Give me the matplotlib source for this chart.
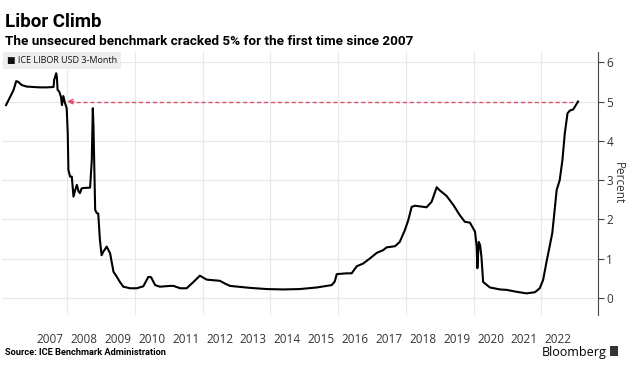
import matplotlib
matplotlib.use("Agg")
import matplotlib.pyplot as plt
import matplotlib.patches as mpatches

plt.rcParams['font.family'] = ['Open Sans', 'DejaVu Sans']
head_font = ['Roboto', 'DejaVu Sans']

# ICE LIBOR USD 3-month, decimal year vs percent
years = [2006.20, 2006.42, 2006.50, 2006.56, 2006.66, 2006.81, 2007.00, 2007.20, 2007.40, 2007.60,
         2007.62, 2007.68, 2007.70, 2007.72, 2007.77, 2007.82, 2007.85, 2007.89, 2007.94, 2007.99,
         2008.02, 2008.04, 2008.09, 2008.14, 2008.19, 2008.24, 2008.29, 2008.34, 2008.38, 2008.43,
         2008.48, 2008.68, 2008.73, 2008.76, 2008.78, 2008.83, 2008.88, 2008.92, 2008.97, 2009.02,
         2009.07, 2009.17, 2009.27, 2009.37, 2009.47, 2009.56, 2009.66, 2009.86, 2010.06, 2010.25,
         2010.40, 2010.48, 2010.60, 2010.74, 2011.04, 2011.14, 2011.34, 2011.53, 2011.73, 2011.92,
         2012.12, 2012.51, 2012.66, 2012.81, 2013.40, 2013.89, 2014.38, 2014.87, 2015.37, 2015.66,
         2015.81, 2015.90, 2015.96, 2016.25, 2016.40, 2016.50, 2016.55, 2016.74, 2016.94, 2017.14,
         2017.33, 2017.43, 2017.68, 2017.82, 2017.97, 2018.07, 2018.17, 2018.27, 2018.61, 2018.76,
         2018.91, 2019.00, 2019.20, 2019.40, 2019.59, 2019.74, 2019.89, 2020.04, 2020.09, 2020.11,
         2020.15, 2020.19, 2020.23, 2020.28, 2020.48, 2020.78, 2020.97, 2021.27, 2021.56, 2021.81,
         2021.95, 2022.05, 2022.15, 2022.23, 2022.32, 2022.36, 2022.45, 2022.54, 2022.62, 2022.69,
         2022.77, 2022.84, 2022.94, 2022.99, 2023.08]
libor = [4.91, 5.29, 5.52, 5.50, 5.42, 5.38, 5.37, 5.36, 5.36, 5.37,
         5.55, 5.72, 5.62, 5.30, 5.25, 5.12, 4.91, 5.14, 4.96, 4.83,
         4.20, 3.26, 3.09, 3.09, 2.58, 2.75, 2.88, 2.71, 2.67, 2.79,
         2.80, 2.81, 3.51, 4.83, 4.36, 2.24, 2.16, 2.15, 1.48, 1.09,
         1.18, 1.31, 1.14, 0.67, 0.54, 0.41, 0.29, 0.25, 0.25, 0.30,
         0.54, 0.53, 0.33, 0.29, 0.31, 0.31, 0.25, 0.25, 0.41, 0.57,
         0.47, 0.44, 0.37, 0.31, 0.26, 0.23, 0.22, 0.23, 0.27, 0.31,
         0.33, 0.42, 0.61, 0.63, 0.63, 0.75, 0.81, 0.88, 1.01, 1.15,
         1.22, 1.29, 1.32, 1.43, 1.73, 1.98, 2.32, 2.35, 2.31, 2.45,
         2.82, 2.74, 2.60, 2.37, 2.11, 1.94, 1.92, 1.69, 1.31, 0.76,
         1.43, 1.35, 1.05, 0.41, 0.27, 0.22, 0.21, 0.16, 0.12, 0.15,
         0.25, 0.46, 0.92, 1.26, 1.65, 1.98, 2.75, 3.00, 3.51, 4.19,
         4.70, 4.77, 4.80, 4.87, 5.00]

year_labels = [str(y) for y in range(2007, 2023)]
level_2007 = 5.0
arrow_back_to = 2008.0

fig = plt.figure(figsize=(6.26, 3.68), dpi=100)
ax = fig.add_axes([2 / 626, 1 - 315 / 368, 596 / 626, 263 / 368])

ax.set_xlim(2006.08, 2023.67)
ax.set_ylim(-0.43, 6.26)

# grid
for y in range(0, 7):
    ax.axhline(y, color='#e8e8e8', lw=0.8, zorder=0)
for x in range(2008, 2024, 2):
    ax.axvline(x, color='#e8e8e8', lw=0.8, zorder=0)

ax.plot(years, libor, color='black', lw=1.5, zorder=3)

# dashed line back to the 2007 level
ax.plot([arrow_back_to + 0.05, years[-1]], [level_2007, level_2007],
        color='#e0506e', lw=1, linestyle=(0, (3, 2)), zorder=2)
ax.annotate('', xy=(arrow_back_to, level_2007), xytext=(arrow_back_to + 0.2, level_2007),
            arrowprops=dict(arrowstyle='->', color='#e0506e', lw=1,
                            mutation_scale=8, shrinkA=0, shrinkB=0))

for s in ['top', 'left', 'bottom']:
    ax.spines[s].set_visible(False)
ax.spines['right'].set_color('#444444')
ax.spines['right'].set_linewidth(0.8)

ax.yaxis.tick_right()
ax.set_yticks(range(0, 7))
ax.tick_params(axis='y', direction='out', length=4, width=0.8, color='#444444',
               labelsize=8.5, labelcolor='#333333', pad=2)
ax.yaxis.set_label_position('right')
ax.set_ylabel('Percent', rotation=270, fontsize=8.5, color='#333333', va='center')
ax.yaxis.set_label_coords(1.035, 0.5)

ax.set_xticks([y + 0.5 for y in range(2007, 2023)])
ax.set_xticklabels(year_labels)
ax.tick_params(axis='x', length=0, labelsize=8.5, labelcolor='#333333', pad=13)

# legend box
ax.text(0.008, 0.985, '\u25a0 ICE LIBOR USD 3-Month', transform=ax.transAxes,
        fontsize=6.5, va='top', ha='left', color='#111111',
        bbox=dict(boxstyle='square,pad=0.45', fc='#eeeeee', ec='none'))

fig.text(5 / 626, 1 - 27 / 368, 'Libor Climb', fontsize=13.5, fontweight='bold',
         color='black', family=head_font)
fig.text(5 / 626, 1 - 45 / 368, 'The unsecured benchmark cracked 5% for the first time since 2007',
         fontsize=9.7, fontweight='bold', color='black', family=head_font)
fig.text(5 / 626, 1 - 355 / 368, 'Source: ICE Benchmark Administration',
         fontsize=6.7, fontweight='bold', color='black', family=head_font)
fig.text(607 / 626, 1 - 356 / 368, 'Bloomberg', fontsize=9, color='black', ha='right')
fig.patches.append(mpatches.Rectangle((610 / 626, 1 - 356 / 368), 8 / 626, 10 / 368,
                                      transform=fig.transFigure, fc='#333333', ec='none'))

fig.savefig('out.png', dpi=100)
